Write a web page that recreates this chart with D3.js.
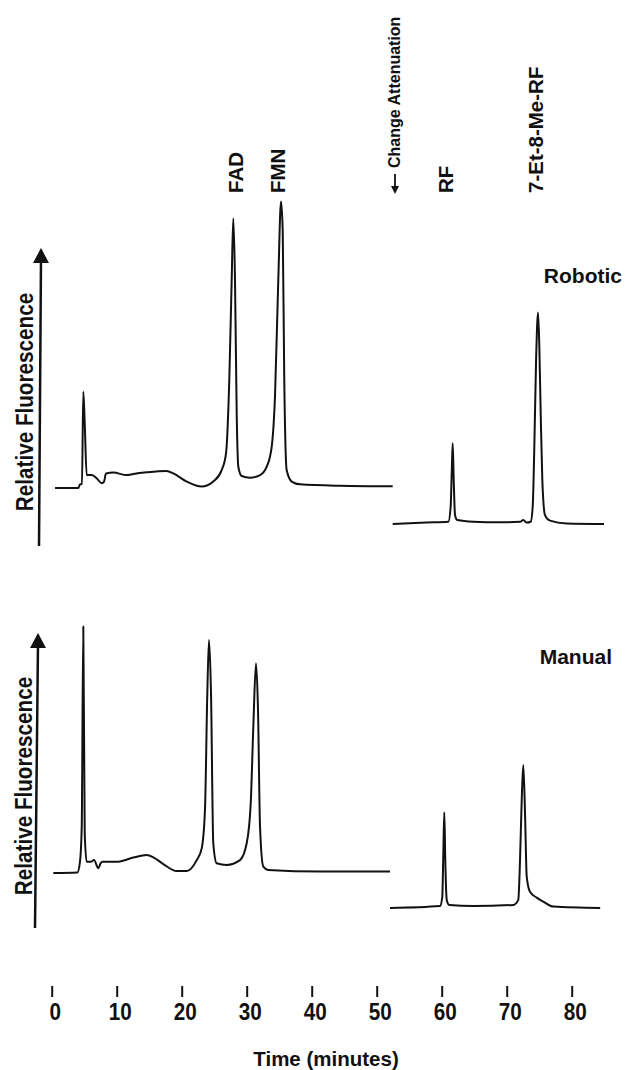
<!DOCTYPE html>
<html>
<head>
<meta charset="utf-8">
<script src="https://cdn.jsdelivr.net/npm/d3@7"></script>
<style>
  body { margin: 0; background: #fff; }
  svg text { font-family: "Liberation Sans", Arial, sans-serif; fill: #111; }
</style>
</head>
<body>
<div id="chart"></div>
<script>
// time (minutes) and relative signal
const robLeftT = [0.51, 4.09, 4.35, 4.66, 4.86, 5.08, 5.38, 6.15, 6.92, 7.69, 8.05, 8.35, 9.48, 11.54, 12.55, 14.62, 17.69, 18.71, 20.77, 23.08, 24.86, 26.15, 26.82, 27.32, 27.69, 27.94, 28.2, 28.46, 28.71, 29.23, 30.51, 32.05, 33.08, 33.85, 34.35, 34.86, 35.28, 35.54, 35.78, 36.15, 36.92, 38.2, 44.35, 52.46];
const robLeftV = [0, 0, 1.3, 1.4, 34.4, 23.2, 4.6, 4.6, 3.5, 1.7, 2.3, 5.2, 5.5, 4.6, 5.0, 5.6, 6.1, 5.2, 2.3, 0.5, 2.3, 6.4, 12.4, 38.6, 74.3, 96.3, 74.3, 26.7, 7.6, 4.3, 3.7, 4.6, 7.6, 14.8, 32.6, 74.3, 102.3, 92, 38.6, 6.4, 2.3, 1.3, 0.8, 0.6];
const robRightT = [52.46, 57.69, 61.02, 61.38, 61.54, 61.69, 61.85, 62.05, 62.4, 64.86, 68.97, 72.05, 72.55, 73.08, 73.69, 74.0, 74.25, 74.51, 74.82, 75.02, 75.23, 75.48, 75.89, 76.66, 79.23, 84.97];
const robRightV = [0, 0.5, 0.8, 6.2, 18.1, 28.8, 15.7, 3.2, 1.4, 0.8, 0.6, 0.8, 1.4, 0.5, 0.8, 6.2, 27.6, 57.4, 75.5, 63.3, 39.5, 15.7, 3.2, 1.2, 0.2, 0];

const manLeftT = [0.25, 3.94, 4.35, 4.62, 4.86, 5.08, 5.38, 6.0, 6.51, 7.17, 7.54, 7.85, 10.0, 12.55, 14.62, 15.63, 17.17, 19.23, 20.77, 22.31, 23.08, 23.58, 23.94, 24.2, 24.51, 24.86, 25.38, 26.92, 28.97, 30.0, 30.62, 31.02, 31.43, 31.74, 32.05, 32.55, 33.32, 41.28, 52.05];
const manLeftV = [0, 0.2, 4.0, 16.5, 88, 14.2, 4.0, 4.0, 4.6, 1.7, 3.5, 4.0, 4.0, 5.5, 6.4, 5.6, 3.2, 0.7, 0.7, 4.6, 8.8, 22.5, 64.2, 83.2, 64.2, 10.6, 3.5, 2.9, 4.6, 10.6, 24.9, 52.3, 74.9, 58.2, 16.5, 2.3, 1.1, 0.5, 0.5];
const manRightT = [52.05, 59.74, 60.09, 60.25, 60.4, 60.55, 60.77, 61.17, 64.86, 71.02, 71.78, 72.05, 72.31, 72.55, 72.82, 73.08, 73.58, 74.62, 75.63, 77.17, 84.38];
const manRightV = [0, 0.7, 4.0, 19.5, 34.2, 17.1, 2.9, 1.1, 0.7, 1.1, 2.9, 17.1, 38.6, 51.1, 33.8, 11.2, 5.8, 3.7, 2.3, 0.5, 0];

const tickValues = [0, 10, 20, 30, 40, 50, 60, 70, 80];
const peakLabels = ["FAD", "FMN", "RF", "7-Et-8-Me-RF"];
const peakLabelX = [243, 285, 453, 543];
const panelNames = ["Robotic", "Manual"];

const width = 626, height = 1070;
const svg = d3.select("#chart").append("svg")
  .attr("width", width).attr("height", height);

const x = d3.scaleLinear().domain([0, 80]).range([51.7, 571.7]);

// one y scale per trace segment (baseline shifts after the attenuation change)
const yRobL = d3.scaleLinear().domain([0, 100]).range([488, 208]);
const yRobR = d3.scaleLinear().domain([0, 100]).range([524, 244]);
const yManL = d3.scaleLinear().domain([0, 100]).range([873, 593]);
const yManR = d3.scaleLinear().domain([0, 100]).range([908, 628]);

function trace(ts, vs, y) {
  const pts = ts.map((t, i) => [t, vs[i]]);
  const line = d3.line().curve(d3.curveMonotoneX).x(d => x(d[0])).y(d => y(d[1]));
  svg.append("path")
    .attr("d", line(pts))
    .attr("fill", "none")
    .attr("stroke", "#111")
    .attr("stroke-width", 2)
    .attr("stroke-linejoin", "round");
}

trace(robLeftT, robLeftV, yRobL);
trace(robRightT, robRightV, yRobR);
trace(manLeftT, manLeftV, yManL);
trace(manRightT, manRightV, yManR);

// vertical arrows with axis titles
function yArrow(x0, y0, x1, y1, labelX, labelY) {
  svg.append("line")
    .attr("x1", x0).attr("y1", y0).attr("x2", x1).attr("y2", y1 + 10)
    .attr("stroke", "#111").attr("stroke-width", 2.5);
  svg.append("path")
    .attr("d", `M${x1},${y1} L${x1 - 8},${y1 + 15} L${x1 + 8},${y1 + 15} Z`)
    .attr("fill", "#111");
  svg.append("text")
    .attr("transform", `translate(${labelX},${labelY}) rotate(-90) scale(0.88,1)`)
    .attr("text-anchor", "middle")
    .style("font-size", "23.5px")
    .style("font-weight", "bold")
    .text("Relative Fluorescence");
}
yArrow(39, 546, 41, 248, 33, 402);
yArrow(35, 928, 38, 633, 32, 786);

// peak names
peakLabels.forEach((s, i) => {
  svg.append("text")
    .attr("transform", `translate(${peakLabelX[i]},193) rotate(-90)`)
    .style("font-size", "20.5px")
    .style("font-weight", "bold")
    .text(s);
});

// change attenuation marker
svg.append("line")
  .attr("x1", 395).attr("y1", 174).attr("x2", 395).attr("y2", 188)
  .attr("stroke", "#111").attr("stroke-width", 1.8);
svg.append("path")
  .attr("d", "M395,194 L391,186 L399,186 Z")
  .attr("fill", "#111");
svg.append("text")
  .attr("transform", "translate(400,168) rotate(-90)")
  .style("font-size", "16px")
  .style("font-weight", "bold")
  .text("Change Attenuation");

// panel names
svg.append("text").attr("x", 622).attr("y", 283)
  .attr("text-anchor", "end")
  .style("font-size", "21px").style("font-weight", "bold")
  .text(panelNames[0]);
svg.append("text").attr("x", 612).attr("y", 664)
  .attr("text-anchor", "end")
  .style("font-size", "21px").style("font-weight", "bold")
  .text(panelNames[1]);

// time axis
const axis = svg.append("g")
  .attr("transform", "translate(0,986)")
  .call(d3.axisBottom(x).tickValues(tickValues).tickSize(11));
axis.select(".domain").remove();
axis.selectAll(".tick line").attr("stroke", "#111").attr("stroke-width", 2);
axis.selectAll(".tick text")
  .attr("y", 0).attr("dy", 0)
  .attr("transform", "translate(3,34) scale(0.9,1)")
  .attr("fill", "#111")
  .style("font-family", "Liberation Sans, Arial, sans-serif")
  .style("font-size", "23px")
  .style("font-weight", "bold");

svg.append("text")
  .attr("x", 326).attr("y", 1066)
  .attr("text-anchor", "middle")
  .style("font-size", "20.5px").style("font-weight", "bold")
  .text("Time (minutes)");
</script>
</body>
</html>
